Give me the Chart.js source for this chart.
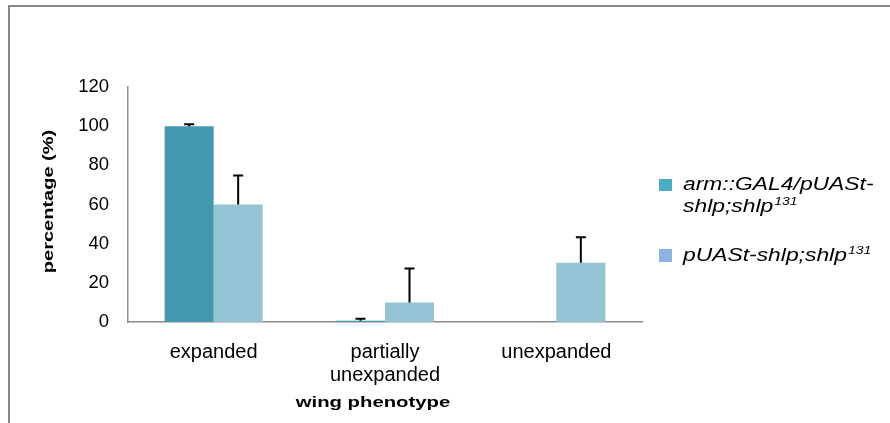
<!DOCTYPE html>
<html>
<head>
<meta charset="utf-8">
<script src="https://cdn.jsdelivr.net/npm/chart.js@4.4.1/dist/chart.umd.min.js"></script>
<style>
  html, body { margin: 0; padding: 0; background: #fff; }
  #wrap { width: 890px; height: 423px; position: relative; }
</style>
</head>
<body>
<div id="wrap"><canvas id="c" width="890" height="423"></canvas></div>
<script>
const categories = [["expanded"], ["partially", "unexpanded"], ["unexpanded"]];
const seriesNames = ["arm::GAL4/pUASt-shlp;shlp", "pUASt-shlp;shlp"];
const armValues = [100, 0.7, 0];
const armErrors = [1, 1, 0];
const puastValues = [60, 10, 30.3];
const puastErrors = [14.8, 17.3, 13];
const yTicks = [0, 20, 40, 60, 80, 100, 120];

const barColors = ["#4397AF", "#94C3D4"];
const legendColors = ["#4BACC6", "#8DB3E2"];
const font = "Arial, 'Liberation Sans', sans-serif";

const framePlugin = {
  id: 'frame',
  beforeDraw(chart) {
    const ctx = chart.ctx;
    ctx.save();
    ctx.strokeStyle = '#878787';
    ctx.lineWidth = 2;
    ctx.beginPath();
    ctx.moveTo(9, 423);
    ctx.lineTo(9, 6);
    ctx.lineTo(890, 6);
    ctx.stroke();
    ctx.restore();
  }
};

const errorPlugin = {
  id: 'errorBars',
  afterDatasetsDraw(chart) {
    const ctx = chart.ctx;
    const y = chart.scales.y;
    ctx.save();
    ctx.strokeStyle = '#000';
    ctx.lineWidth = 2;
    chart.data.datasets.forEach((ds, di) => {
      const meta = chart.getDatasetMeta(di);
      meta.data.forEach((bar, i) => {
        const err = ds.errors[i];
        if (!err) return;
        const x = bar.x;
        const top = y.getPixelForValue(ds.data[i]);
        const end = y.getPixelForValue(ds.data[i] + err);
        ctx.beginPath();
        ctx.moveTo(x, top);
        ctx.lineTo(x, end);
        ctx.moveTo(x - 5, end);
        ctx.lineTo(x + 5, end);
        ctx.stroke();
      });
    });
    ctx.restore();
  }
};

function stretchedText(ctx, text, x, y, sx) {
  ctx.save();
  ctx.translate(x, y);
  ctx.scale(sx, 1);
  ctx.fillText(text, 0, 0);
  ctx.restore();
  return ctx.measureText(text).width * sx;
}

const legendPlugin = {
  id: 'customLegend',
  afterDraw(chart) {
    const ctx = chart.ctx;
    ctx.save();
    ctx.textBaseline = 'middle';
    ctx.textAlign = 'left';
    const x0 = 659, tx = 683, sx = 1.27;
    ctx.fillStyle = legendColors[0];
    ctx.fillRect(x0, 179, 13, 12);
    ctx.fillStyle = '#000';
    ctx.font = "italic 18px " + font;
    stretchedText(ctx, "arm::GAL4/pUASt-", tx, 185, sx);
    let w = stretchedText(ctx, "shlp;shlp", tx, 207, sx);
    ctx.font = "italic 11px " + font;
    stretchedText(ctx, "131", tx + w + 1, 202, sx);
    ctx.fillStyle = legendColors[1];
    ctx.fillRect(x0, 249, 13, 13);
    ctx.fillStyle = '#000';
    ctx.font = "italic 18px " + font;
    w = stretchedText(ctx, "pUASt-shlp;shlp", tx, 256, sx);
    ctx.font = "italic 11px " + font;
    stretchedText(ctx, "131", tx + w + 1, 251, sx);
    ctx.restore();
  }
};

// axis titles drawn by the library, stretched along their reading direction
function stretchTitle(scale, factor, shift) {
  if (scale._stretchTitle) return;
  scale._stretchTitle = true;
  const orig = Object.getPrototypeOf(scale).drawTitle;
  scale.drawTitle = function () {
    const ctx = this.ctx;
    ctx.save();
    if (this.isHorizontal()) {
      const c = (this.left + this.right) / 2;
      ctx.translate(c + shift, 0);
      ctx.scale(factor, 1);
      ctx.translate(-c, 0);
    } else {
      const c = (this.top + this.bottom) / 2;
      ctx.translate(0, c + shift);
      ctx.scale(1, factor);
      ctx.translate(0, -c);
    }
    orig.call(this);
    ctx.restore();
  };
}

new Chart(document.getElementById('c'), {
  type: 'bar',
  data: {
    labels: categories,
    datasets: [
      { label: seriesNames[0], data: armValues, errors: armErrors, backgroundColor: barColors[0], borderWidth: 0 },
      { label: seriesNames[1], data: puastValues, errors: puastErrors, backgroundColor: barColors[1], borderWidth: 0 }
    ]
  },
  options: {
    responsive: false,
    animation: false,
    events: [],
    layout: { padding: { left: 0, right: 248, top: 87, bottom: 0 } },
    datasets: { bar: { categoryPercentage: 0.572, barPercentage: 1.0 } },
    plugins: { legend: { display: false }, tooltip: { enabled: false } },
    scales: {
      x: {
        grid: { display: false, drawTicks: false },
        border: { display: true, color: '#8c8c8c', width: 1.5 },
        ticks: { color: '#000', font: { family: font, size: 20, lineHeight: 1.15 }, padding: 19, maxRotation: 0, autoSkip: false },
        title: { display: true, text: 'wing phenotype', color: '#000', font: { family: font, size: 14, weight: 'bold' }, padding: { top: 0, bottom: 11 } },
        afterFit(s) { s.height = 101; stretchTitle(s, 1.45, -12); }
      },
      y: {
        min: 0, max: 120,
        afterBuildTicks(s) { s.ticks = yTicks.map(v => ({ value: v })); },
        grid: { display: false, drawTicks: false },
        border: { display: true, color: '#8c8c8c', width: 1.5 },
        ticks: { color: '#000', font: { family: font, size: 18.5 }, padding: 19 },
        title: { display: true, text: 'percentage (%)', color: '#000', font: { family: font, size: 14.5, weight: 'bold' }, padding: { top: 40, bottom: 0 } },
        afterFit(s) { s.width = 128; stretchTitle(s, 1.38, -3); }
      }
    }
  },
  plugins: [framePlugin, errorPlugin, legendPlugin]
});
</script>
</body>
</html>
